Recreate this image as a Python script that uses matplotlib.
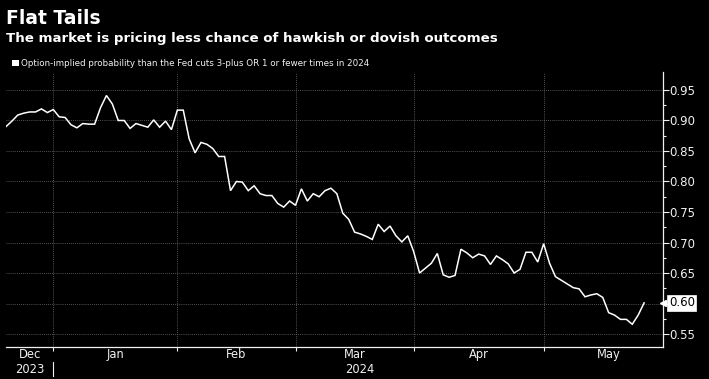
#!/usr/bin/env python3
"""
Flat Tails - option-implied probability of hawkish/dovish Fed outcomes
Bloomberg-style dark chart, trading-day x axis (Dec 19 2023 - May 24 2024)
"""

import numpy as np
import matplotlib.pyplot as plt
import matplotlib.transforms as mtransforms

# Data (one value per trading day)
values = [
    0.890, 0.899, 0.909, 0.912, 0.914, 0.914, 0.919, 0.913, 0.918, 0.906,
    0.905, 0.893, 0.888, 0.895, 0.894, 0.894, 0.921, 0.941, 0.927, 0.900,
    0.900, 0.887, 0.895, 0.892, 0.889, 0.901, 0.889, 0.899, 0.885, 0.917,
    0.917, 0.870, 0.847, 0.864, 0.861, 0.854, 0.841, 0.841, 0.785, 0.800,
    0.799, 0.785, 0.793, 0.780, 0.777, 0.777, 0.764, 0.758, 0.768, 0.761,
    0.788, 0.768, 0.780, 0.775, 0.785, 0.789, 0.780, 0.748, 0.738, 0.717,
    0.714, 0.710, 0.705, 0.730, 0.718, 0.727, 0.711, 0.701, 0.711, 0.685,
    0.650, 0.658, 0.666, 0.682, 0.647, 0.643, 0.646, 0.689, 0.683, 0.675,
    0.681, 0.678, 0.664, 0.678, 0.672, 0.665, 0.650, 0.656, 0.684, 0.684,
    0.668, 0.698, 0.666, 0.644, 0.638, 0.632, 0.626, 0.624, 0.611, 0.614,
    0.616, 0.610, 0.585, 0.581, 0.574, 0.574, 0.566, 0.581, 0.601,
]
# trading-day index where each month starts (Dec 19 = 0)
month_bounds = [0, 8, 29, 49, 69, 91, 113]
month_names = ['Dec', 'Jan', 'Feb', 'Mar', 'Apr', 'May']
y_ticks = [0.55, 0.60, 0.65, 0.70, 0.75, 0.80, 0.85, 0.90, 0.95]
last_label = '0.60'

TITLE = 'Flat Tails'
SUBTITLE = 'The market is pricing less chance of hawkish or dovish outcomes'
LEGEND = 'Option-implied probability than the Fed cuts 3-plus OR 1 or fewer times in 2024'

BG = 'black'
FG = '#f0f0f0'
GRID = '#6e6e6e'

W, H = 709, 379


def fx(px):
    return px / W


def fy(py):
    return 1 - py / H


fig = plt.figure(figsize=(W / 100, H / 100), dpi=100, facecolor=BG)
ax = fig.add_axes([fx(6), fy(347), fx(663) - fx(6), fy(72) - fy(347)], facecolor=BG)

x = np.arange(len(values))
ax.plot(x, values, color='white', lw=1.1, solid_joinstyle='miter', zorder=3)

ax.set_xlim(0, 111.2)
ax.set_ylim(0.5287, 0.9795)

# grid
for b in month_bounds[1:-1]:
    ax.axvline(b, color=GRID, lw=0.6, ls=(0, (1, 1.5)), zorder=1)
for t in y_ticks:
    ax.axhline(t, color=GRID, lw=0.6, ls=(0, (1, 1.5)), zorder=1)

# spines
for s in ['top', 'left']:
    ax.spines[s].set_visible(False)
ax.spines['right'].set_color(FG)
ax.spines['bottom'].set_color(FG)
ax.spines['right'].set_linewidth(0.9)
ax.spines['bottom'].set_linewidth(0.9)

# y axis on right (the last-value tag replaces its own tick label)
ax.yaxis.tick_right()
ax.set_yticks(y_ticks)
ax.set_yticklabels(['' if f'{t:.2f}' == last_label else f'{t:.2f}' for t in y_ticks])
ax.set_yticks([t + 0.025 for t in y_ticks[:-1]], minor=True)
ax.tick_params(axis='y', which='major', colors=FG, length=4, width=0.8,
               labelsize=8.5, pad=0.8)
ax.tick_params(axis='y', which='minor', colors=FG, length=2.5, width=0.8)

# x axis: ticks at month starts, labels centred in month
ax.set_xticks(month_bounds[1:-1])
ax.set_xticklabels([])
ax.tick_params(axis='x', which='major', colors=FG, length=3, width=0.8)
mids = [(a + b) / 2 for a, b in zip(month_bounds[:-1], month_bounds[1:])]
ax.set_xticks(mids, minor=True)
ax.set_xticklabels(month_names, minor=True)
ax.tick_params(axis='x', which='minor', colors=FG, length=0, labelsize=8.3, pad=0.8)

# year labels
trans = mtransforms.blended_transform_factory(ax.transData, ax.transAxes)
ax.text(mids[0], -0.058, '2023', transform=trans, ha='center', va='top',
        color=FG, fontsize=8.3)
ax.text(57.4, -0.058, '2024', transform=trans, ha='left', va='top',
        color=FG, fontsize=8.3)
ax.plot([month_bounds[1], month_bounds[1]], [-0.055, -0.105], transform=trans,
        color=FG, lw=0.8, clip_on=False)

# last value tag
tag_trans = mtransforms.blended_transform_factory(ax.transAxes, ax.transData)
ax.plot([1.0], [values[-1]], marker='<', ms=4, color='white', transform=tag_trans,
        clip_on=False, zorder=5)
ax.annotate(last_label, xy=(1.0, values[-1]), xycoords=tag_trans,
            xytext=(4.2, 0), textcoords='offset points', ha='left', va='center',
            fontsize=8.5, color='black', zorder=6, annotation_clip=False,
            bbox=dict(boxstyle='square,pad=0.12', fc='white', ec='white', lw=0.5))

# titles
fig.text(fx(6), fy(9), TITLE, ha='left', va='top', color='white',
         fontsize=13.5, fontweight='bold')
fig.text(fx(6), fy(32), SUBTITLE, ha='left', va='top', color='white',
         fontsize=9.6, fontweight='bold')
fig.patches.append(plt.Rectangle((fx(12), fy(66)), fx(7), fy(60) - fy(66),
                                 transform=fig.transFigure, fc='white', ec='none'))
fig.text(fx(21), fy(63), LEGEND, ha='left', va='center', color=FG, fontsize=6.35)

fig.savefig('out.png', dpi=100, facecolor=BG)
